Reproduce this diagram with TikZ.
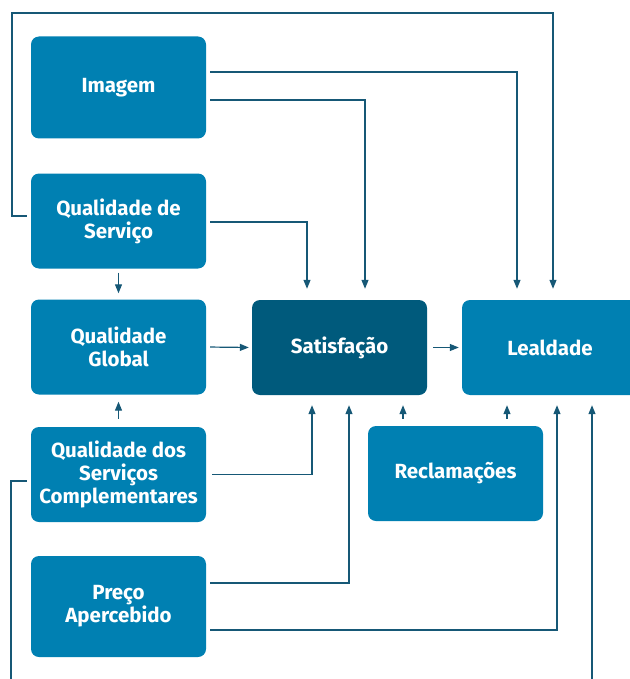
\documentclass[tikz,border=0pt]{standalone}
\usepackage{fontspec}
\setmainfont{Fira Sans}
\usetikzlibrary{arrows.meta,calc}
\definecolor{boxblue}{RGB}{0,128,178}
\definecolor{boxdark}{RGB}{0,90,124}
\definecolor{linkcol}{RGB}{22,88,118}
\tikzset{
    %Standard box and connector looks
    factor/.style={fill=boxblue, rounded corners=8pt, minimum width=175pt, minimum height=95pt, text=white, font=\bfseries\fontsize{20.5}{23}\selectfont, align=center, inner sep=0pt},
    link/.style={draw=linkcol, line width=1.2pt, shorten <=4pt},
    >={Triangle[width=7pt,length=9pt]}
}

\begin{document}
\begin{tikzpicture}[x=1pt, y=-1pt]

	\useasboundingbox (0,0) rectangle (629,679);

	\node[factor, minimum height=102pt] (imagem) at (118.5, 87.5) {Imagem};
	\node[factor] (servico) at (118.5, 221) {Qualidade de\\Serviço};
	\node[factor] (global) at (118.5, 347) {Qualidade\\Global};
	\node[factor] (complem) at (118.5, 474.5) {Qualidade dos\\Serviços\\Complementares};
	\node[factor, minimum height=101pt] (preco) at (118.5, 606.5) {Preço\\Apercebido};

	\node[factor, fill=boxdark] (satisf) at (339.5, 347.5) {Satisfação};
	\node[factor, minimum width=176pt] (lealdade) at (550, 347.5) {Lealdade};
	\node[factor] (reclam) at (455.5, 473.5) {Reclamações};

	% free ends at the bottom edge
	\coordinate (leftend) at (11, 690);
	\coordinate (rightend) at (592, 690);

	% into the top of Lealdade / Satisfacao
	\draw[link, ->, shorten >=11pt] ([yshift=5pt]servico.west) -| (12,13) -| ([xshift=3pt]lealdade.north);
	\draw[link, ->, shorten >=11pt] ([yshift=15.5pt]imagem.east) -| ([xshift=-33pt]lealdade.north);
	\draw[link, ->, shorten >=11pt] ([yshift=-12.5pt]imagem.east) -| ([xshift=25.5pt]satisf.north);
	\draw[link, ->, shorten >=11pt] ([yshift=-1pt]servico.east) -| ([xshift=-32.5pt]satisf.north);

	% left column
	\draw[link, ->, shorten >=6pt] (servico.south) -- (global.north);
	\draw[link, ->, shorten <=8pt, shorten >=7pt] (complem.north) -- (global.south);
	\draw[link, ->, shorten >=3pt] (global.east) -- (satisf.west);
	\draw[link, ->, shorten <=6pt, shorten >=3pt] (satisf.east) -- (lealdade.west);

	% into the bottom of Satisfacao / Lealdade
	\draw[link, ->, shorten <=6pt, shorten >=10pt] (complem.east) -| ([xshift=-27.5pt]satisf.south);
	\draw[link, ->, shorten >=10pt] ([yshift=23.5pt]preco.east) -| ([xshift=9.5pt]satisf.south);
	\draw[link, ->, shorten <=7pt, shorten >=10pt] (reclam.north -| 403,0) -- ([xshift=63.5pt]satisf.south);
	\draw[link, ->, shorten <=7pt, shorten >=10pt] (reclam.north -| 507,0) -- ([xshift=-43pt]lealdade.south);
	\draw[link, ->, shorten >=10pt] ([yshift=-23.5pt]preco.east) -| ([xshift=7pt]lealdade.south);
	\draw[link, ->, shorten <=0pt, shorten >=10pt] (rightend) -- ([xshift=42pt]lealdade.south);
	\draw[link] ([yshift=-6.5pt]complem.west) -| (leftend);

\end{tikzpicture}
\end{document}
